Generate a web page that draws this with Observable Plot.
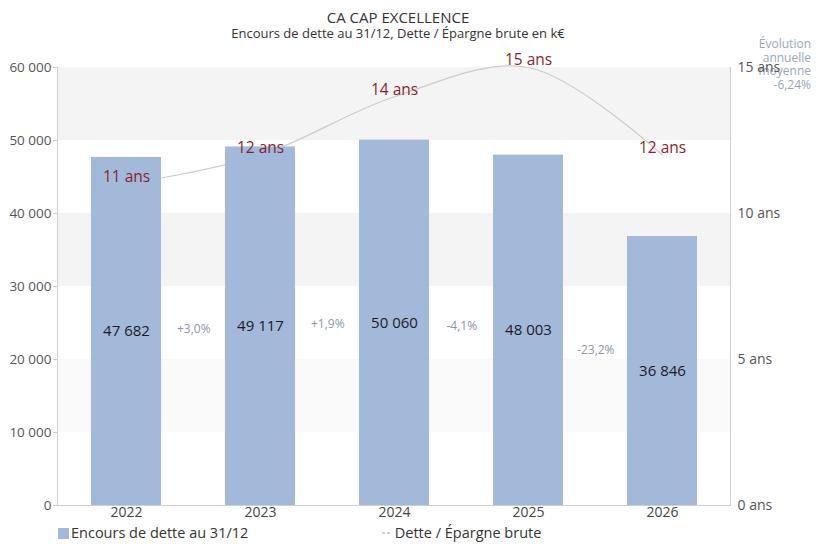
<!DOCTYPE html>
<html>
<head>
<meta charset="utf-8">
<script src="https://cdn.jsdelivr.net/npm/d3@7"></script>
<script src="https://cdn.jsdelivr.net/npm/@observablehq/plot@0.6"></script>
<style>
  html, body { margin: 0; padding: 0; background: #fff; }
  #wrap { position: relative; width: 816px; height: 544px; font-family: "Open Sans", sans-serif; overflow: hidden; }
  #wrap > svg { position: absolute; left: 0; top: 0; background: transparent; overflow: visible; }
  .abs { position: absolute; white-space: nowrap; }
</style>
</head>
<body>
<div id="wrap">
  <div class="abs" style="left:0;width:796px;top:7px;text-align:center;font-size:15px;color:#333;">CA CAP EXCELLENCE</div>
  <div class="abs" style="left:0;width:796px;top:24px;text-align:center;font-size:13px;color:#333;">Encours de dette au 31/12, Dette / Épargne brute en k€</div>
  <div id="evo" class="abs" style="right:5px;top:37px;text-align:right;font-size:12px;line-height:13.5px;color:#9aa5b6;"></div>
  <div class="abs" style="left:58px;top:528px;width:11px;height:11px;background:#a3b9d9;"></div>
  <div class="abs" style="left:71px;top:524px;font-size:14.5px;line-height:18px;color:#333;">Encours de dette au 31/12</div>
  <div class="abs" style="left:382px;top:524px;font-size:14.5px;line-height:18px;color:#333;"><svg width="9" height="8" style="vertical-align:1px;"><line x1="0" x2="9" y1="4" y2="4" stroke="#aaa" stroke-width="1" stroke-dasharray="3,2"/></svg> Dette / Épargne brute</div>
</div>
<script>
// ---- data ----
const years = ["2022", "2023", "2024", "2025", "2026"];
const encours = [47682, 49117, 50060, 48003, 36846];        // k€
const ratio = [11, 12, 14, 15, 12];                          // années
const leftTicks = [0, 10000, 20000, 30000, 40000, 50000, 60000];
const rightTicks = [0, 5, 10, 15];                           // ans
const bandLows = [50000, 30000, 10000];                      // shaded bands (low bound)

// ---- derived ----
const fr = d3.formatLocale({decimal: ",", thousands: "\u00a0", grouping: [3], currency: ["", " €"], minus: "-"});
const fmtInt = fr.format(",d");
const fmtPct = fr.format("+.1%");
const ratioScale = 60000 / 15; // right axis maps 0–15 ans onto 0–60000

const bars = years.map((y, i) => ({year: y, value: encours[i], ratio: ratio[i]}));
const evol = years.slice(0, -1).map((y, i) => ({
  year: y,
  mid: (encours[i] / 2 + encours[i + 1] / 2) / 2,
  pct: encours[i + 1] / encours[i] - 1
}));
const cagr = Math.pow(encours[encours.length - 1] / encours[0], 1 / (years.length - 1)) - 1;
document.getElementById("evo").innerHTML =
  "Évolution<br>annuelle<br>moyenne<br>" + fr.format(".2%")(cagr);

const bands = bandLows.map((lo, i) => ({lo, hi: lo + 10000, k: i}));

const marginLeft = 57, marginRight = 86;
const step = (816 - marginLeft - marginRight) / years.length;

const chart = Plot.plot({
  width: 816,
  height: 544,
  marginLeft, marginRight,
  marginTop: 67,
  marginBottom: 39,
  style: {fontFamily: "Open Sans, sans-serif", fontSize: "14px", background: "transparent", overflow: "visible"},
  x: {domain: years, paddingInner: 0.48, paddingOuter: 0.24, axis: null},
  y: {domain: [0, 60000], axis: null},
  marks: [
    Plot.rectY(bands, {y1: "lo", y2: "hi", fill: d => d.k === 2 ? "#f9f9f9" : "#f4f4f4"}),
    Plot.frame({anchor: "left", stroke: "#cfcfcf"}),
    Plot.frame({anchor: "right", stroke: "#cfcfcf"}),
    Plot.ruleY([0], {stroke: "#cfcfcf"}),
    Plot.line(bars, {x: "year", y: d => d.ratio * ratioScale, curve: "catmull-rom", stroke: "#cfcac4", strokeWidth: 1.2}),
    Plot.barY(bars, {x: "year", y: "value", fill: "#a3b9d9"}),
    Plot.text(bars, {x: "year", y: d => d.value / 2, text: d => fmtInt(d.value), fill: "#1a1a2a", fontSize: 15}),
    Plot.text(evol, {x: "year", y: "mid", dx: step / 2, text: d => fmtPct(d.pct), fill: "#8c96a8", fontSize: 12}),
    Plot.text(bars, {x: "year", y: d => d.ratio * ratioScale, dy: -7, text: d => d.ratio + " ans", fill: "#8b1e2e", fontSize: 15.5}),
    Plot.axisY({anchor: "left", ticks: leftTicks, tickFormat: d => fmtInt(d), tickSize: 4, tickPadding: 2, stroke: "#cfcfcf", color: "#555", fontSize: 13.5, label: null}),
    Plot.axisY({anchor: "right", ticks: rightTicks.map(d => d * ratioScale), tickFormat: d => (d / ratioScale) + " ans", tickSize: 0, tickPadding: 7, color: "#555", fontSize: 14, label: null}),
    Plot.axisX({ticks: years, tickSize: 0, tickPadding: 2, color: "#444", fontSize: 14, label: null})
  ]
});
document.getElementById("wrap").appendChild(chart);
</script>
</body>
</html>
